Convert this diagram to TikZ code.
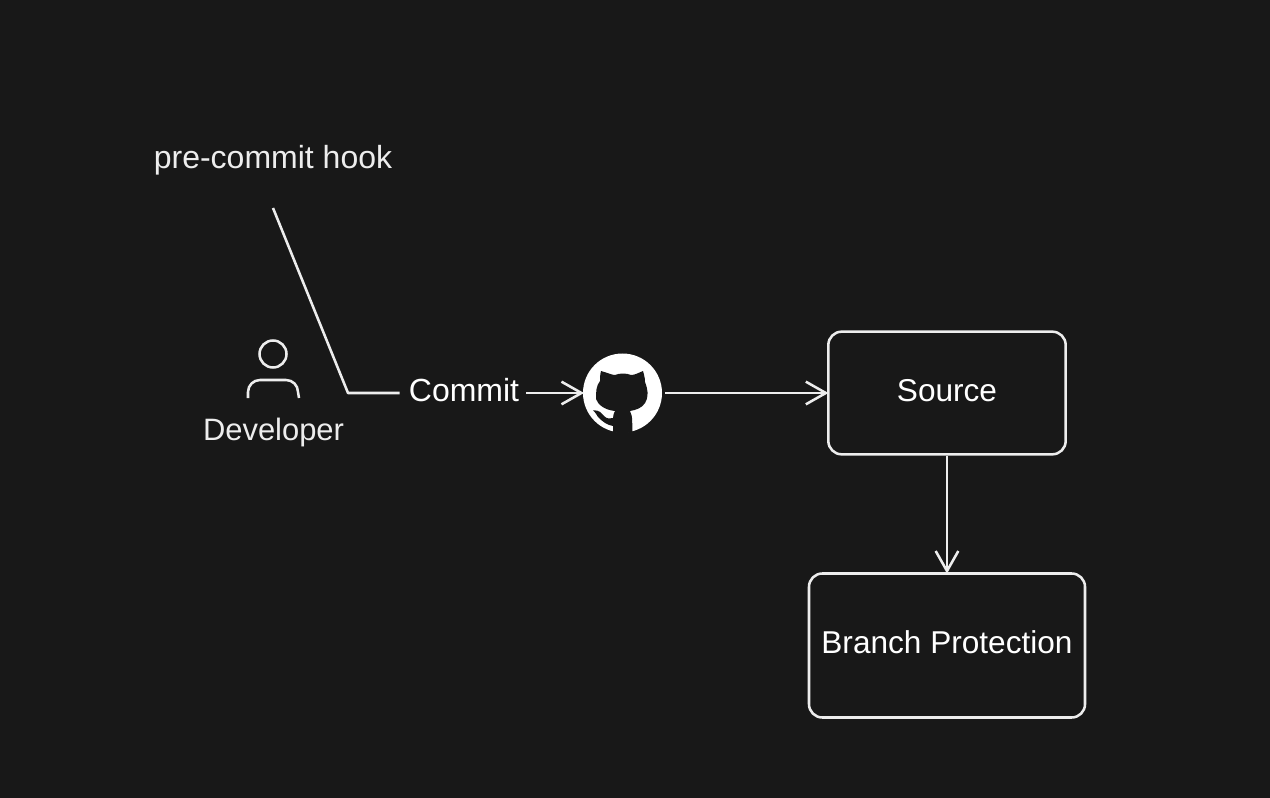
\documentclass[tikz,border=0pt]{standalone}
\usepackage{fontspec}
\setmainfont{Liberation Sans}
\usetikzlibrary{arrows.meta}
\definecolor{bg}{HTML}{181818}
\definecolor{ink}{HTML}{EDEDED}
\tikzset{
  px/.style={x=0.75pt,y=-0.75pt},
  lbl/.style={text=ink,inner sep=0pt,font=\fontsize{24}{28}\selectfont},
  box/.style={draw=ink,line width=1.9pt,rounded corners=10pt,inner sep=0pt,text=white,font=\fontsize{23.7}{28}\selectfont},
  conn/.style={draw=ink,line width=1.9pt},
  arr/.style={conn,shorten >=-1pt,-{Straight Barb[length=15pt,width=17pt,line width=1.9pt]}},
}
\begin{document}
\begin{tikzpicture}[px]
\useasboundingbox[fill=bg] (0,0) rectangle (1270,798);
\node[lbl] (hook) at (273,160) {pre-commit hook};
\node[lbl,font=\fontsize{23.2}{28}\selectfont] (dev) at (273.5,433) {Developer};
\node[lbl,text=white] (commit) at (464,390) {Commit};
\node[box,minimum width=178pt,minimum height=92pt] (source) at (947,393) {\raisebox{4.5pt}{Source}};
\node[box,minimum width=207pt,minimum height=108pt] (branch) at (947,645.5) {\raisebox{4.5pt}{Branch Protection}};
% person
\draw[conn] (273,354) circle (13.5);
\draw[conn] (248,398) -- (248,392) arc (180:270:12) -- (286,380) arc (270:360:12) -- (299,398);
% github
\fill[white] (622.5,393) circle (39.5);
\node[circle,minimum size=59.25pt,inner sep=0pt] (gh) at (622.5,393) {};
\fill[bg] (601,371) .. controls (608,373) and (612,375) .. (615,375)
  .. controls (620,373) and (626,373) .. (631,375)
  .. controls (635,375) and (638,373) .. (643,371)
  .. controls (645,378) and (645,380) .. (645,382)
  .. controls (648,390) and (649,396) .. (645,403)
  .. controls (642,408) and (636,410) .. (630,411)
  .. controls (633,416) and (632,425) .. (632.5,432)
  .. controls (626,433.5) and (619,433.5) .. (613,432)
  .. controls (613,430) and (613,427) .. (613,426)
  .. controls (607,425) and (603,422) .. (598,417)
  .. controls (595,412) and (594,411) .. (593,410.5)
  .. controls (600,410) and (601,413) .. (604,416)
  .. controls (607,419) and (610,419) .. (613,418)
  .. controls (613,415) and (614,413) .. (615,411)
  .. controls (605,410) and (598,405) .. (596,399)
  .. controls (596,392) and (596,386) .. (600,381)
  .. controls (600,378) and (600,375) .. (601,371) -- cycle;
% connectors
\coordinate (hookend) at (273,208);
\coordinate (bend) at (348,393);
\coordinate (c0) at ([xshift=-6.75pt]commit.west |- bend);
\coordinate (c1) at ([xshift=5.25pt]commit.east |- gh);
\coordinate (g1) at ([xshift=2.25pt]gh.east);
\draw[conn,line join=round] (hookend) -- (bend) -- (c0);
\draw[arr] (c1) -- (gh.west);
\draw[arr] (g1) -- (source.west);
\draw[arr] (source.south) -- (branch.north);
\end{tikzpicture}
\end{document}
